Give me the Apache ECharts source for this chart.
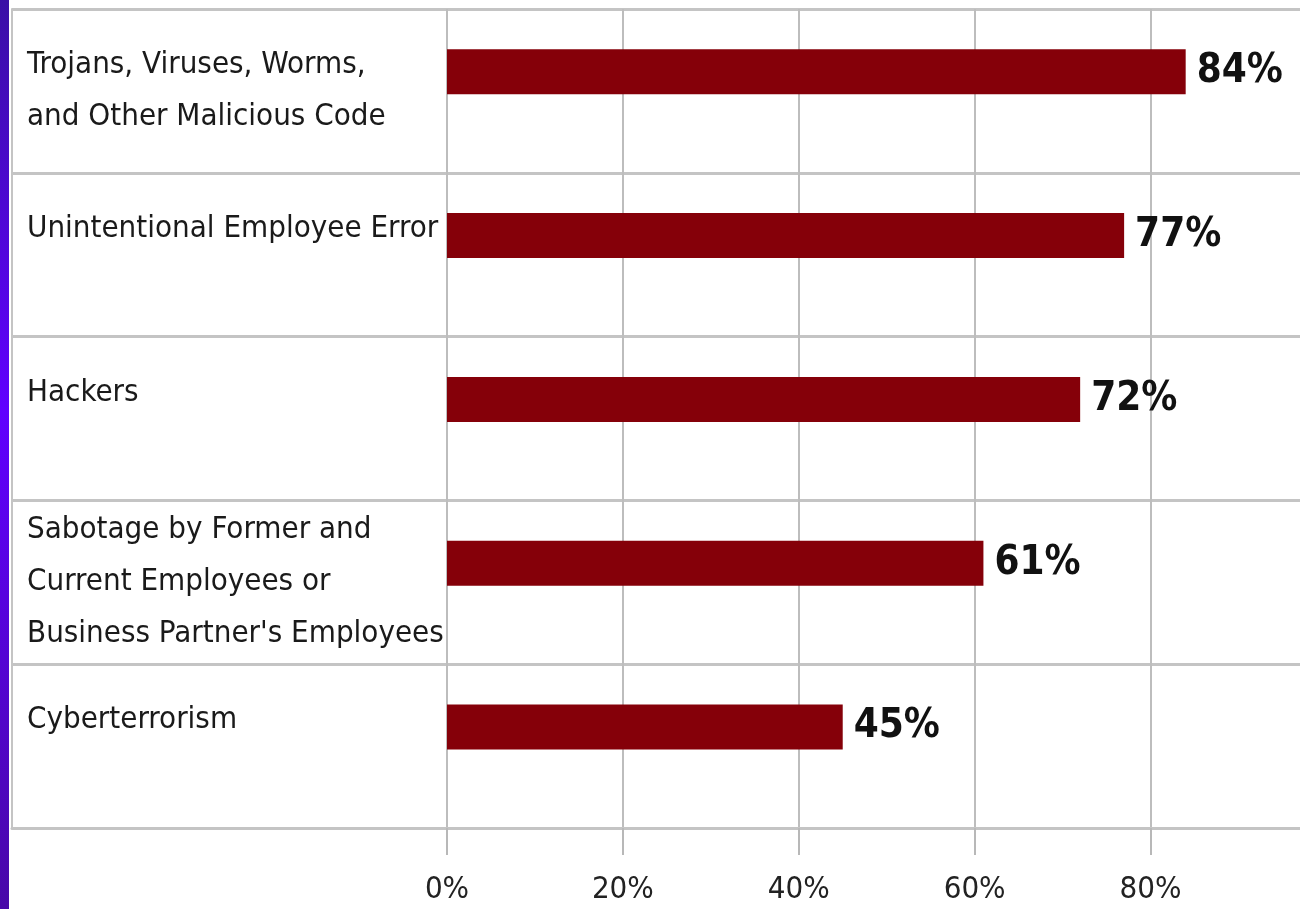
<!DOCTYPE html>
<html>
<head>
<meta charset="utf-8">
<script src="https://cdn.jsdelivr.net/npm/echarts@6/dist/echarts.min.js"></script>
<style>
html,body{margin:0;padding:0;background:#fff;overflow:hidden;}
#chart{width:1300px;height:909px;}
</style>
</head>
<body>
<div id="chart"></div>
<script>
const categories = [
  "Trojans, Viruses, Worms,\nand Other Malicious Code",
  "Unintentional Employee Error",
  "Hackers",
  "Sabotage by Former and\nCurrent Employees or\nBusiness Partner's Employees",
  "Cyberterrorism"
];
const values = [84, 77, 72, 61, 45];
const tickValues = [0, 20, 40, 60, 80];

const FONT = '"Liberation Sans Narrow", "DejaVu Sans Condensed", "Liberation Sans", sans-serif';
const GRID_TOP = 9, GRID_BOTTOM = 81;
const lineColor = '#c4c4c4';

const chart = echarts.init(document.getElementById('chart'), null, {renderer: 'canvas'});
chart.setOption({
  backgroundColor: '#ffffff',
  animation: false,
  graphic: [{
    type: 'rect', left: 0, top: 0, z: 100,
    shape: {width: 9, height: 909},
    style: {fill: new echarts.graphic.LinearGradient(0, 0, 0, 1, [
      {offset: 0, color: '#3a10a6'},
      {offset: 0.45, color: '#6000ff'},
      {offset: 1, color: '#4808a8'}
    ])}
  }],
  grid: [
    {left: 447, right: 0, top: GRID_TOP, bottom: GRID_BOTTOM, containLabel: false},
    {left: 12, right: 0, top: GRID_TOP, bottom: GRID_BOTTOM, containLabel: false}
  ],
  xAxis: [
    {
      gridIndex: 0, type: 'value', min: 0, max: 97, interval: 20,
      axisLine: {show: false},
      axisTick: {show: true, length: 27, lineStyle: {color: '#b8b8b8', width: 2}},
      splitLine: {show: true, showMaxLine: false, lineStyle: {color: '#bdbdbd', width: 2}},
      axisLabel: {
        showMaxLabel: false, margin: 46,
        formatter: v => tickValues.includes(v) ? v + '%' : '',
        fontFamily: FONT, fontSize: 31, color: '#222'
      }
    },
    {
      gridIndex: 1, type: 'value', min: 0, max: 1, show: true,
      axisLine: {show: true, lineStyle: {color: lineColor, width: 3}},
      axisTick: {show: false}, axisLabel: {show: false}, splitLine: {show: false}
    }
  ],
  yAxis: [
    {
      gridIndex: 0, type: 'category', data: categories, inverse: true,
      axisLine: {show: false}, axisTick: {show: false},
      axisLabel: {show: false}, splitLine: {show: false}
    },
    {
      gridIndex: 1, type: 'category', data: categories, inverse: true,
      axisLine: {show: true, lineStyle: {color: lineColor, width: 2}},
      axisTick: {show: false},
      splitLine: {show: true, lineStyle: {color: lineColor, width: 3}},
      axisLabel: {
        inside: true, margin: 15, align: 'left',
        formatter: v => v.includes('\n') ? v : v + '\n ',
        fontFamily: FONT, fontSize: 31, lineHeight: 52, color: '#1a1a1a'
      }
    }
  ],
  series: [
    {
      type: 'bar', xAxisIndex: 0, yAxisIndex: 0, data: values,
      barWidth: 45, barGap: '-15%',
      itemStyle: {color: '#850009'},
      label: {
        show: true, position: 'right', distance: 11,
        formatter: '{c}%', fontFamily: FONT, fontWeight: 'bold',
        fontSize: 40, color: '#111'
      }
    },
    {
      type: 'bar', xAxisIndex: 0, yAxisIndex: 0,
      data: categories.map(() => 0), barWidth: 45, silent: true,
      itemStyle: {color: 'rgba(0,0,0,0)'}, label: {show: false}
    }
  ]
});
</script>
</body>
</html>
